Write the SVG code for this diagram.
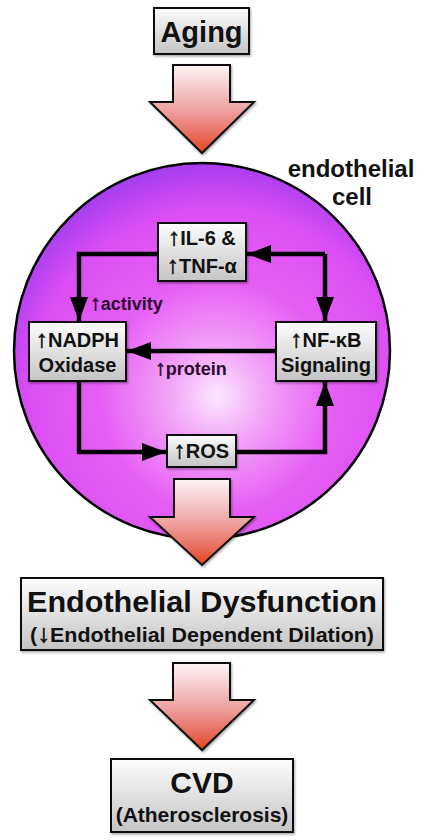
<svg xmlns="http://www.w3.org/2000/svg" width="424" height="840" viewBox="0 0 424 840">
<defs>
<linearGradient id="boxg" x1="0" y1="0" x2="0" y2="1">
<stop offset="0" stop-color="#fdfdfd"/>
<stop offset="1" stop-color="#c4c4c4"/>
</linearGradient>
<linearGradient id="arrg" x1="0" y1="0" x2="0" y2="1">
<stop offset="0" stop-color="#fdf4f4"/>
<stop offset="0.5" stop-color="#eea4a4"/>
<stop offset="0.8" stop-color="#e86c5c"/>
<stop offset="1" stop-color="#e8441a"/>
</linearGradient>
<radialGradient id="cellg" cx="0.54" cy="0.62" r="0.62" fx="0.54" fy="0.62">
<stop offset="0" stop-color="#fbe8fd"/>
<stop offset="0.2" stop-color="#f3a6f8"/>
<stop offset="0.5" stop-color="#e65ef4"/>
<stop offset="0.8" stop-color="#dc4ef4"/>
<stop offset="1" stop-color="#a63ef0"/>
</radialGradient>
<marker id="ah" markerUnits="userSpaceOnUse" markerWidth="26" markerHeight="20" refX="24" refY="9" orient="auto">
<path d="M0,0 L24,9 L0,18 z" fill="#000"/>
</marker>
<filter id="sh" x="-10%" y="-10%" width="130%" height="130%">
<feDropShadow dx="1" dy="1.5" stdDeviation="1" flood-color="#000" flood-opacity="0.35"/>
</filter>
</defs>
<style>
.box{fill:url(#boxg);stroke:#111;stroke-width:2;filter:url(#sh)}
.big{fill:url(#arrg);stroke:#111;stroke-width:2;stroke-linejoin:miter;filter:url(#sh)}
.t{font-family:"Liberation Sans",Arial,sans-serif;font-weight:bold;fill:#111;text-anchor:middle}
.lab{font-family:"Liberation Sans",Arial,sans-serif;font-weight:bold;fill:#2c0a30;font-size:18px}
.ar{font-family:"Liberation Sans",Arial,sans-serif;font-weight:bold;font-size:120%;stroke:#111;stroke-width:0.6}
.con{fill:none;stroke:#000;stroke-width:4.5;stroke-linejoin:miter}
</style>

<g id="cell">
<circle cx="202" cy="351" r="188" fill="url(#cellg)" stroke="#000" stroke-width="2.5"/>
<text class="t" x="351" y="177" font-size="24">endothelial</text>
<text class="t" x="352" y="205" font-size="24">cell</text>
</g>

<g id="aging">
<rect class="box" x="154" y="8" width="95" height="46"/>
<text class="t" x="201.5" y="42" font-size="29">Aging</text>
</g>

<g id="arrow-top">
<polygon class="big" points="173,65 230,65 230,102 254,102 202,153 150,102 173,102"/>
</g>

<g id="connectors">
<path class="con" d="M158,254 H79 V321" marker-end="url(#ah)"/>
<path class="con" d="M325,254 H247" marker-end="url(#ah)"/>
<path class="con" d="M325,254 V321" marker-end="url(#ah)"/>
<path class="con" d="M276,351 H127" marker-end="url(#ah)"/>
<path class="con" d="M79,381 V452 H166" marker-end="url(#ah)"/>
<path class="con" d="M236,452 H325 V382" marker-end="url(#ah)"/>
<text class="lab" x="90" y="310"><tspan class="ar" style="stroke:#2c0a30">↑</tspan>activity</text>
<text class="lab" x="155" y="375"><tspan class="ar" style="stroke:#2c0a30">↑</tspan>protein</text>
</g>

<g id="il6">
<rect class="box" x="158" y="223" width="88" height="58"/>
<text class="t" x="202" y="245" font-size="20"><tspan class="ar">↑</tspan>IL-6 &amp;</text>
<text class="t" x="202" y="273" font-size="20"><tspan class="ar">↑</tspan>TNF-α</text>
</g>

<g id="nadph">
<rect class="box" x="29" y="322" width="97" height="59"/>
<text class="t" x="77.5" y="347" font-size="20"><tspan class="ar">↑</tspan>NADPH</text>
<text class="t" x="77.5" y="372" font-size="20">Oxidase</text>
</g>

<g id="nfkb">
<rect class="box" x="276" y="322" width="100" height="59"/>
<text class="t" x="326" y="347" font-size="20"><tspan class="ar">↑</tspan>NF-κB</text>
<text class="t" x="326" y="372" font-size="20">Signaling</text>
</g>

<g id="ros">
<rect class="box" x="167" y="435" width="69" height="32"/>
<text class="t" x="201.5" y="458" font-size="20"><tspan class="ar">↑</tspan>ROS</text>
</g>

<g id="arrow-mid">
<polygon class="big" points="174,479 230,479 230,517 254,517 202,565 150,517 174,517"/>
</g>

<g id="dysfunction">
<rect class="box" x="21" y="578" width="362" height="72"/>
<text class="t" x="202" y="612" font-size="29" textLength="350" lengthAdjust="spacingAndGlyphs">Endothelial Dysfunction</text>
<text class="t" x="202" y="642" font-size="21" textLength="344" lengthAdjust="spacingAndGlyphs">(<tspan class="ar">↓</tspan>Endothelial Dependent Dilation)</text>
</g>

<g id="arrow-bottom">
<polygon class="big" points="173,663 230,663 230,700 254,700 202,750 150,700 173,700"/>
</g>

<g id="cvd">
<rect class="box" x="111" y="759" width="182" height="73"/>
<text class="t" x="202" y="793" font-size="30">CVD</text>
<text class="t" x="202" y="822" font-size="21">(Atherosclerosis)</text>
</g>
</svg>
